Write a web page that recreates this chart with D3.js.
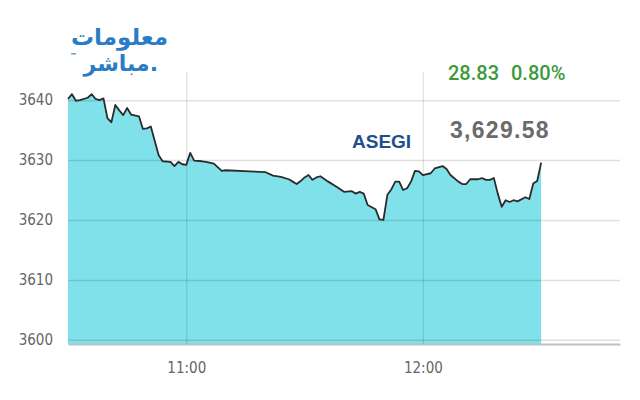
<!DOCTYPE html>
<html>
<head>
<meta charset="utf-8">
<script src="https://cdn.jsdelivr.net/npm/d3@7"></script>
<style>
body { margin: 0; background: #fff; }
.tick text { font-family: "DejaVu Sans Condensed", "Liberation Sans Narrow", sans-serif; font-stretch: condensed; font-size: 15px; fill: #666; }
</style>
</head>
<body>
<svg width="640" height="400"></svg>
<script>
var times = ["10:30","10:31","10:32","10:33","10:35","10:36","10:37","10:38","10:39","10:40",
    "10:41","10:42","10:43","10:44","10:45","10:46","10:48","10:49","10:50","10:51",
    "10:53","10:54","10:56","10:57","10:58","10:59","11:00","11:01","11:02","11:04",
    "11:05","11:07","11:09","11:10","11:16","11:20","11:22","11:24","11:26","11:27",
    "11:28","11:29","11:30","11:31","11:32","11:33","11:34","11:36","11:38","11:40",
    "11:42","11:43","11:44","11:45","11:46","11:48","11:49","11:50","11:51","11:52",
    "11:53","11:54","11:55","11:56","11:57","11:58","11:59","12:00","12:02","12:03",
    "12:05","12:06","12:07","12:09","12:10","12:11","12:12","12:14","12:15","12:16",
    "12:17","12:18","12:19","12:20","12:21","12:22","12:23","12:24","12:26","12:27",
    "12:28","12:29","12:30"];

var values = [3640.2,3641.0,3639.9,3640.0,3640.4,3641.0,3640.2,3640.0,3640.3,3637.0,
    3636.3,3639.2,3638.3,3637.5,3638.7,3637.6,3637.3,3635.2,3635.3,3635.6,
    3630.8,3629.8,3629.7,3629.0,3629.7,3629.3,3629.2,3631.2,3629.9,3629.8,
    3629.7,3629.4,3628.2,3628.3,3628.1,3628.0,3627.4,3627.2,3626.8,3626.4,
    3626.0,3626.5,3627.1,3627.5,3626.7,3627.1,3627.3,3626.4,3625.6,3624.7,
    3624.8,3624.4,3624.7,3624.4,3622.5,3621.8,3620.1,3620.0,3624.2,3625.1,
    3626.4,3626.4,3625.0,3625.3,3626.4,3628.2,3628.1,3627.5,3627.8,3628.6,
    3629.0,3628.5,3627.5,3626.4,3626.0,3626.0,3626.8,3626.8,3627.0,3626.7,
    3626.7,3627.0,3624.4,3622.2,3623.3,3623.0,3623.3,3623.1,3623.8,3623.5,
    3626.1,3626.5,3629.58];

var yTicks = [3600, 3610, 3620, 3630, 3640];
var xTicks = ["11:00", "12:00"];
var xDomain = ["10:30", "12:50"];
var yDomain = [3599.3, 3644.7];

var indexName = "ASEGI",
    lastValue = "3,629.58",
    change = "28.83",
    changePct = "0.80%";

var svg = d3.select("svg"),
    margin = { top: 72, right: 20, bottom: 56, left: 68 },
    width = +svg.attr("width") - margin.left - margin.right,
    height = +svg.attr("height") - margin.top - margin.bottom;

var parseTime = d3.timeParse("%H:%M");

var data = times.map(function(t, i) {
    return { date: parseTime(t), value: values[i] };
});

var x = d3.scaleTime().domain(xDomain.map(parseTime)).range([0, width]),
    y = d3.scaleLinear().domain(yDomain).range([height, 0]);

var g = svg.append("g")
    .attr("transform", "translate(" + margin.left + "," + margin.top + ")");

var area = d3.area()
    .x(function(d) { return x(d.date); })
    .y0(y(yDomain[0]))
    .y1(function(d) { return y(d.value); });

var line = d3.line()
    .x(function(d) { return x(d.date); })
    .y(function(d) { return y(d.value); });

g.append("path")
    .datum(data)
    .attr("fill", "#80e1ea")
    .attr("d", area);

// grid lines sit over the fill
var yAxis = g.append("g")
    .attr("class", "axis axis--y")
    .call(d3.axisLeft(y).tickValues(yTicks).tickSize(-width).tickPadding(15).tickFormat(d3.format("d")));
yAxis.select(".domain").remove();
yAxis.selectAll(".tick line").attr("stroke", "#000").attr("stroke-opacity", 0.12).attr("stroke-width", 1.5);

var xAxis = g.append("g")
    .attr("class", "axis axis--x")
    .attr("transform", "translate(0," + height + ")")
    .call(d3.axisBottom(x).tickValues(xTicks.map(parseTime)).tickSize(-height).tickSizeOuter(0).tickPadding(18).tickFormat(d3.timeFormat("%H:%M")));
xAxis.select(".domain").attr("stroke", "#b9c3cc").attr("stroke-width", 2);
xAxis.selectAll(".tick line").attr("stroke", "#000").attr("stroke-opacity", 0.12).attr("stroke-width", 1.2);

g.append("path")
    .datum(data)
    .attr("fill", "none")
    .attr("stroke", "#2b2b2b")
    .attr("stroke-width", 1.8)
    .attr("stroke-linejoin", "round")
    .attr("d", line);

// header texts
svg.append("text")
    .attr("x", 448).attr("y", 80)
    .style("font-family", "Roboto, sans-serif")
    .style("font-size", "20px")
    .style("font-weight", 500)
    .style("fill", "#3b9a3a")
    .text(change);

svg.append("text")
    .attr("x", 511).attr("y", 80)
    .style("font-family", "Roboto, sans-serif")
    .style("font-size", "20px")
    .style("font-weight", 500)
    .style("fill", "#3b9a3a")
    .text(changePct);

svg.append("text")
    .attr("x", 450).attr("y", 138)
    .style("font-family", "Arial, 'Liberation Sans', sans-serif")
    .style("font-size", "23px")
    .style("font-weight", "bold")
    .style("letter-spacing", "1.3px")
    .style("fill", "#6b6b6b")
    .text(lastValue);

svg.append("text")
    .attr("x", 352).attr("y", 148)
    .style("font-family", "Arial, 'Liberation Sans', sans-serif")
    .style("font-size", "19px")
    .style("font-weight", "bold")
    .style("fill", "#1f4f8f")
    .text(indexName);

// logo
var logo = svg.append("g")
    .style("font-family", "'DejaVu Sans', sans-serif")
    .style("font-weight", "bold")
    .style("fill", "#2b7cc6");
logo.append("text").attr("x", 168).attr("y", 45).attr("text-anchor", "end")
    .style("font-size", "23px").text("معلومات");
logo.append("text").attr("x", 158).attr("y", 71).attr("text-anchor", "end")
    .style("font-size", "22px").text("مباشر.");
logo.append("text").attr("x", 70).attr("y", 58)
    .style("font-size", "7px").text("™");
</script>
</body>
</html>
